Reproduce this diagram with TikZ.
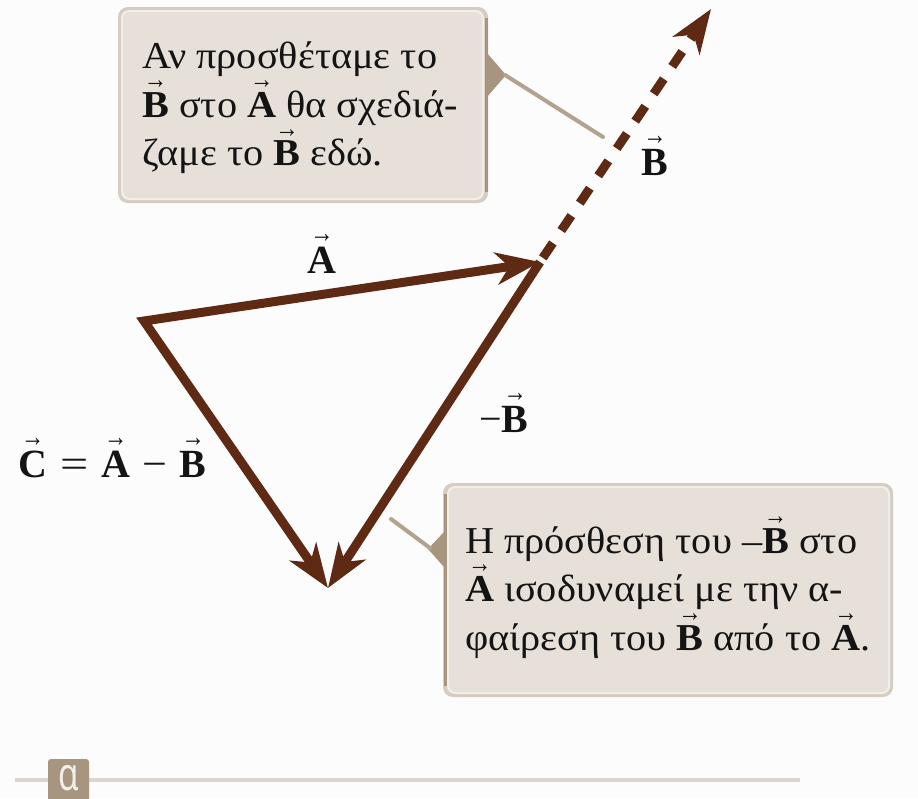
\documentclass[tikz,border=0pt]{standalone}
\usepackage{fontspec}
\setmainfont{Liberation Serif}
\newfontfamily\boxfont[FakeStretch=1.06]{Liberation Serif}
\newfontfamily\tabfont{Noto Sans}
\usetikzlibrary{arrows.meta,calc}
\definecolor{vbrown}{HTML}{5E2A14}
\definecolor{boxfill}{HTML}{E6E0D9}
\definecolor{boxrim}{HTML}{D6CCC1}
\definecolor{boxhi}{HTML}{F2EEEA}
\definecolor{tanc}{HTML}{A89580}
\definecolor{tanline}{HTML}{B3A290}
\definecolor{rulec}{HTML}{DDD5CC}
\definecolor{ink}{HTML}{141414}
\definecolor{bgc}{HTML}{FCFCFC}
\newcommand\vb[1]{\ooalign{\textbf{#1}\cr\hidewidth\raisebox{0.76em}{\scalebox{0.58}[0.72]{→}}\hidewidth\cr}}
\begin{document}
\begin{tikzpicture}[x=1pt,y=-1pt,
  vecline/.style={draw=vbrown,line width=9pt,line join=miter},
  tipA/.style={-{Stealth[length=44pt,width=32pt,inset=13pt]}},
  boxtext/.style={anchor=north west,inner sep=0pt,align=left,text=ink,font=\boxfont\fontsize{38}{48.5}\selectfont},
  lbl/.style={anchor=base,inner sep=0pt,text=ink,font=\fontsize{40}{44}\selectfont},
  pointer/.style={draw=tanline,line width=4pt,line cap=round}]
\useasboundingbox (0,0) rectangle (918,798);
\fill[bgc] (0,0) rectangle (918,798);

% bottom rule and tab
\draw[rulec,line width=4pt] (15,780) -- (800,780);
\fill[tanc,rounded corners=3pt] (48,759) rectangle (89,810);
\node[text=boxhi,font=\tabfont\fontsize{46}{46}\selectfont,inner sep=0pt] (alpha) at (68.5,778) {\scalebox{0.72}[1]{α}};

% top callout box
\fill[boxrim,rounded corners=10pt] (118,7) rectangle (488,203);
\draw[tanc,line width=3pt] (486,18) -- (486,192);
\fill[boxhi,rounded corners=8pt] (121,10) rectangle (484,200);
\fill[boxfill,rounded corners=7pt] (123,12) rectangle (482,198);
\fill[tanc] (487,53) -- (506,75) -- (487,97) -- cycle;
\coordinate (tp) at (505,75);
\coordinate (tq) at (603,137);
\draw[pointer] (tp) -- (tq);
\node[boxtext] (ttext) at (142,42) {Αν προσθέταμε το\\\vb{B} στο \vb{A} θα σχεδιά-\\ζαμε το \vb{B} εδώ.};

% bottom callout box
\fill[boxrim,rounded corners=10pt] (443,483) rectangle (893,697);
\draw[tanc,line width=3pt] (445,494) -- (445,686);
\fill[boxhi,rounded corners=8pt] (447,486) rectangle (890,694);
\fill[boxfill,rounded corners=7pt] (449,488) rectangle (888,692);
\fill[tanc] (444,532) -- (428,549) -- (444,567) -- cycle;
\coordinate (bp) at (391,519);
\coordinate (bq) at (430,548);
\draw[pointer] (bp) -- (bq);
\node[boxtext] (btext) at (465,526) {Η πρόσθεση του –\vb{B} στο\\\vb{A} ισοδυναμεί με την α-\\φαίρεση του \vb{B} από το \vb{A}.};

% vectors
\coordinate (O) at (144,321);
\coordinate (P) at (540,262);
\coordinate (Q) at (328,588);
\coordinate (R) at (711,9);
\draw[vecline,{Stealth[length=44pt,width=32pt,inset=13pt]}-{Stealth[length=44pt,width=32pt,inset=13pt]}] (P) -- (O) -- (Q);
\draw[vecline,tipA] (P) -- (Q);
\draw[vecline,tipA,dash pattern=on 18pt off 15pt] ($(P)!5pt!(R)$) -- (R);

% labels
\node[lbl] (la) at (322,273) {\vb{A}};
\node[lbl] (lb) at (655,175) {\vb{B}};
\node[lbl] (lmb) at (504,432) {−\vb{B}};
\node[lbl,anchor=base west] (lc) at (18,477) {\vb{C}\hspace{13pt}\scalebox{1.25}[1]{=}\hspace{13pt}\vb{A}\hspace{12pt}\scalebox{1.1}[1]{−}\hspace{13pt}\vb{B}};
\end{tikzpicture}
\end{document}
